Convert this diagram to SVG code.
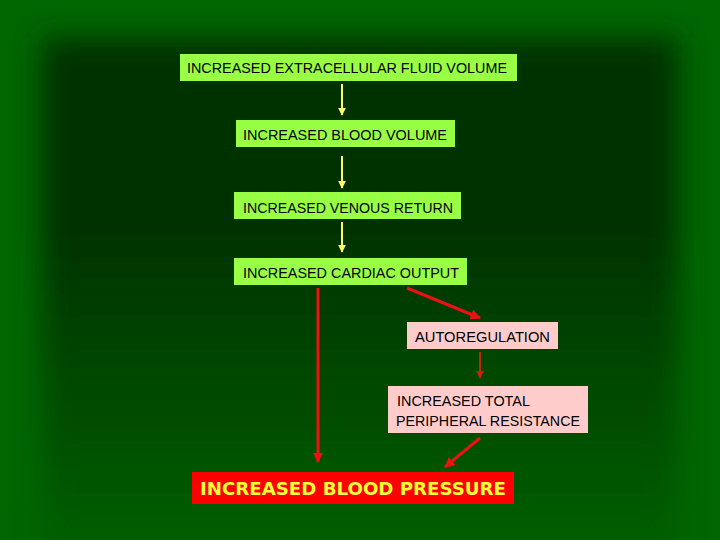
<svg xmlns="http://www.w3.org/2000/svg" width="720" height="540" viewBox="0 0 720 540">
<style>
.t{font-family:"Liberation Sans","DejaVu Sans",sans-serif;font-size:15px;fill:#000}
.g{fill:#99ff44}
.p{fill:#ffcccc}
.y{stroke:#ffff66;stroke-width:2;fill:none}
.r{stroke:#ee1111;stroke-width:3;fill:none}
.dr{stroke:#cc2200;stroke-width:2;fill:none}
</style>
<defs>
<linearGradient id="vg" x1="0" y1="0" x2="0" y2="1">
<stop offset="0" stop-color="#003300"/>
<stop offset="0.35" stop-color="#003300"/>
<stop offset="1" stop-color="#006600"/>
</linearGradient>
<filter id="bl" x="-10%" y="-10%" width="120%" height="120%"><feGaussianBlur stdDeviation="14"/></filter>
<marker id="ay" viewBox="0 0 10 10" refX="9" refY="5" markerWidth="4" markerHeight="4" orient="auto"><path d="M0,0L10,5L0,10z" fill="#ffff66"/></marker>
<marker id="ar" viewBox="0 0 10 10" refX="9" refY="5" markerWidth="3.5" markerHeight="3.5" orient="auto"><path d="M0,0L10,5L0,10z" fill="#ee1111"/></marker>
<marker id="adr" viewBox="0 0 10 10" refX="9" refY="5" markerWidth="4" markerHeight="4" orient="auto"><path d="M0,0L10,5L0,10z" fill="#cc2200"/></marker>
</defs>
<rect width="720" height="540" fill="#006600"/>
<rect x="42" y="38" width="636" height="560" fill="url(#vg)" filter="url(#bl)"/>
<g id="connectors">
<line class="y" x1="342" y1="84" x2="342" y2="115" marker-end="url(#ay)"/>
<line class="y" x1="342" y1="156" x2="342" y2="188" marker-end="url(#ay)"/>
<line class="y" x1="342" y1="222" x2="342" y2="252" marker-end="url(#ay)"/>
<line class="r" x1="318" y1="288" x2="318" y2="462" stroke-width="4" marker-end="url(#ar)"/>
<line class="r" x1="407" y1="288" x2="480" y2="318" stroke-width="2.5" marker-end="url(#ar)"/>
<line class="dr" x1="480" y1="352" x2="480" y2="378" marker-end="url(#adr)"/>
<line class="r" x1="480" y1="438" x2="445" y2="467" stroke-width="2.5" marker-end="url(#ar)"/>
</g>
<g id="n1"><rect class="g" x="180" y="54" width="337" height="27"/><text class="t" x="187" y="73" textLength="320" lengthAdjust="spacingAndGlyphs">INCREASED EXTRACELLULAR FLUID VOLUME</text></g>
<g id="n2"><rect class="g" x="236" y="120" width="219" height="27"/><text class="t" x="243" y="140" textLength="204" lengthAdjust="spacingAndGlyphs">INCREASED BLOOD VOLUME</text></g>
<g id="n3"><rect class="g" x="234" y="192" width="227" height="27"/><text class="t" x="243" y="213" textLength="210" lengthAdjust="spacingAndGlyphs">INCREASED VENOUS RETURN</text></g>
<g id="n4"><rect class="g" x="234" y="258" width="233" height="27"/><text class="t" x="243" y="278" textLength="216" lengthAdjust="spacingAndGlyphs">INCREASED CARDIAC OUTPUT</text></g>
<g id="n5"><rect class="p" x="407" y="322" width="151" height="27"/><text class="t" x="415" y="342" textLength="135" lengthAdjust="spacingAndGlyphs">AUTOREGULATION</text></g>
<g id="n6"><rect class="p" x="388" y="386" width="200" height="47"/><text class="t" x="397" y="406" textLength="133" lengthAdjust="spacingAndGlyphs">INCREASED TOTAL</text><text class="t" x="396" y="426" textLength="184" lengthAdjust="spacingAndGlyphs">PERIPHERAL RESISTANCE</text></g>
<g id="n7"><rect x="192" y="472" width="322" height="32" fill="#ff0000"/><text x="200" y="495" textLength="306" lengthAdjust="spacingAndGlyphs" style="font-family:'DejaVu Sans','Liberation Sans',sans-serif;font-size:18px;font-weight:bold;fill:#ffff33">INCREASED BLOOD PRESSURE</text></g>
</svg>
